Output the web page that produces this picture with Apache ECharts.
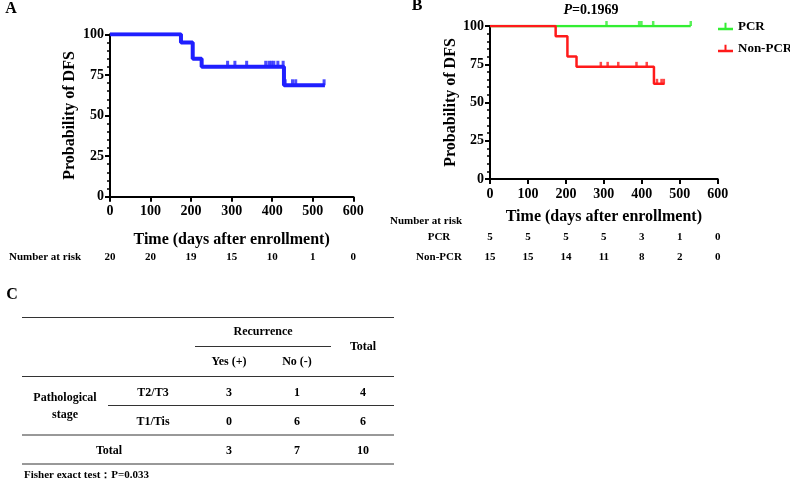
<!DOCTYPE html>
<html><head><meta charset="utf-8">
<script src="https://cdn.jsdelivr.net/npm/echarts@6/dist/echarts.min.js"></script>
<style>html,body{margin:0;padding:0;background:#fff}#c{width:790px;height:480px}</style>
</head><body><div id="c"></div>
<script>
// ---- Data ----
var xTicks = [0, 100, 200, 300, 400, 500, 600];
// Panel A (all patients)
var timesA = [0, 175, 204, 226, 429, 530];
var survA = [100, 95, 85, 80, 68.6, 68.6];
var censorA = [290, 308, 337, 384, 392, 398, 404, 414, 427, 432, 450, 458, 528];
var riskA = [20, 20, 19, 15, 10, 1, 0];
// Panel B
var timesPCR = [0, 529];
var survPCR = [100, 100];
var censorPCR = [307, 393, 399, 430, 529];
var timesNon = [0, 173, 204, 228, 432, 460];
var survNon = [100, 93.3, 80, 73.3, 62.2, 62.2];
var censorNon = [292, 310, 338, 386, 413, 440, 452, 458];
var riskPCR = [5, 5, 5, 5, 3, 1, 0];
var riskNon = [15, 15, 14, 11, 8, 2, 0];
var pValue = '0.1969';
// Panel C table
var colHeads = ['Yes (+)', 'No (-)', 'Total'];
var rowLabels = ['T2/T3', 'T1/Tis'];
var yesVals = [3, 0];
var noVals = [1, 6];
var rowTotals = [4, 6];
var colTotals = [3, 7, 10];
var fisherP = '0.033';

// ---- helpers ----
function pairs(xs, ys) { return xs.map(function (x, i) { return [x, ys[i]]; }); }
function survAt(xs, ys, t) { var v = ys[0]; for (var i = 0; i < xs.length; i++) { if (xs[i] <= t) v = ys[i]; } return v; }
function censorPts(cs, xs, ys) { return cs.map(function (t) { return [t, survAt(xs, ys, t)]; }); }

var FF = '"Liberation Serif", "Times New Roman", serif';
var BLUE = '#1f1fff', GREEN = '#33ee33', RED = '#ff1a1a';
var TICK = '#000';

function yAxisCfg(gi, gap) {
  return {
    gridIndex: gi, type: 'value', min: 0, max: 100, interval: 25,
    name: 'Probability of DFS', nameLocation: 'middle', nameGap: gap,
    nameTextStyle: { fontFamily: FF, fontWeight: 'bold', fontSize: 16, color: '#000' },
    axisLine: { show: true, lineStyle: { color: '#000', width: 2 } },
    axisTick: { show: true, length: 5, lineStyle: { color: TICK, width: 2 } },
    minorTick: { show: true, splitNumber: 5, length: 3, lineStyle: { color: TICK, width: 1.5 } },
    splitLine: { show: false },
    axisLabel: { fontFamily: FF, fontWeight: 'bold', fontSize: 14, color: '#000', margin: 6 }
  };
}
function xAxisCfg(gi, gap) {
  return {
    gridIndex: gi, type: 'value', min: 0, max: 600, interval: 100,
    name: 'Time (days after enrollment)', nameLocation: 'middle', nameGap: gap,
    nameTextStyle: { fontFamily: FF, fontWeight: 'bold', fontSize: 16, color: '#000' },
    axisLine: { show: true, onZero: false, lineStyle: { color: '#000', width: 2 } },
    axisTick: { show: true, length: 5, lineStyle: { color: TICK, width: 2 } },
    splitLine: { show: false },
    axisLabel: { fontFamily: FF, fontWeight: 'bold', fontSize: 14, color: '#000', margin: 8 }
  };
}
function riskAxis(gi, offset, arr) {
  return {
    gridIndex: gi, type: 'value', min: 0, max: 600, interval: 100, position: 'bottom', offset: offset,
    axisLine: { show: false }, axisTick: { show: false }, splitLine: { show: false },
    axisLabel: { fontFamily: FF, fontWeight: 'bold', fontSize: 11, color: '#000', margin: 0,
      formatter: function (v) { var i = xTicks.indexOf(v); return i >= 0 ? String(arr[i]) : ''; } }
  };
}
function stepLine(name, xi, yi, xs, ys, color, w) {
  return { name: name, type: 'line', xAxisIndex: xi, yAxisIndex: yi, step: 'end', data: pairs(xs, ys),
    symbol: 'none', lineStyle: { color: color, width: w }, itemStyle: { color: color }, z: 3, silent: true, animation: false };
}
function censors(xi, yi, cs, xs, ys, color, sz, off) {
  return { type: 'scatter', xAxisIndex: xi, yAxisIndex: yi, data: censorPts(cs, xs, ys),
    symbol: 'rect', symbolSize: sz, symbolOffset: off, itemStyle: { color: color }, z: 4, silent: true, animation: false };
}

var txt = function (x, y, s, size, align, extra) {
  var st = { text: s, x: x, y: y, fill: '#000', font: 'bold ' + size + 'px ' + FF, textAlign: align || 'center', textVerticalAlign: 'middle' };
  if (extra) for (var k in extra) st[k] = extra[k];
  return { type: 'text', style: st, silent: true };
};
var hline = function (x1, x2, y) {
  return { type: 'line', shape: { x1: x1, y1: y, x2: x2, y2: y }, style: { stroke: '#333', lineWidth: 1 }, silent: true };
};

var gfx = [
  txt(11, 9, 'A', 16, 'center'),
  txt(417, 6, 'B', 16, 'center'),
  txt(12, 295, 'C', 16, 'center'),
  txt(9, 257, 'Number at risk', 11, 'left'),
  txt(390, 221, 'Number at risk', 11, 'left'),
  txt(439, 237, 'PCR', 11, 'center'),
  txt(439, 257, 'Non-PCR', 11, 'center')
];
// Table
var colX = [229, 297, 363];
gfx.push(hline(22, 394, 317.5), hline(195, 331, 346.5), hline(22, 394, 376.5), hline(108, 394, 405.5), hline(22, 394, 435), hline(22, 394, 464));
gfx.push(txt(263, 332, 'Recurrence', 12, 'center'));
gfx.push(txt(colX[0], 362, colHeads[0], 12, 'center'), txt(colX[1], 362, colHeads[1], 12, 'center'), txt(colX[2], 347, colHeads[2], 12, 'center'));
gfx.push(txt(65, 398, 'Pathological', 12, 'center'), txt(65, 415, 'stage', 12, 'center'));
var rowY = [392.5, 421.5];
rowLabels.forEach(function (r, i) {
  gfx.push(txt(153, rowY[i], r, 12, 'center'));
  gfx.push(txt(colX[0], rowY[i], String(yesVals[i]), 12, 'center'));
  gfx.push(txt(colX[1], rowY[i], String(noVals[i]), 12, 'center'));
  gfx.push(txt(colX[2], rowY[i], String(rowTotals[i]), 12, 'center'));
});
gfx.push(txt(109, 450.5, 'Total', 12, 'center'));
colTotals.forEach(function (v, i) { gfx.push(txt(colX[i], 450.5, String(v), 12, 'center')); });
gfx.push(txt(24, 475, 'Fisher exact test\uff1aP=' + fisherP, 11, 'left'));

var legendIcon = 'path://M0,7 L15,7 L15,9.5 L0,9.5 Z M6.5,2 L8.5,2 L8.5,7 L6.5,7 Z';

var option = {
  backgroundColor: '#fff',
  animation: false,
  title: {
    text: '{i|P}{n|=' + pValue + '}', left: 586, top: -2, textAlign: 'center',
    textStyle: { rich: {
      i: { fontFamily: FF, fontStyle: 'italic', fontWeight: 'bold', fontSize: 14, color: '#000' },
      n: { fontFamily: FF, fontWeight: 'bold', fontSize: 14, color: '#000' } } }
  },
  legend: {
    data: ['PCR', 'Non-PCR'], orient: 'vertical', left: 713, top: 15, itemWidth: 15, itemHeight: 10, itemGap: 9,
    icon: legendIcon,
    textStyle: { fontFamily: FF, fontWeight: 'bold', fontSize: 13, color: '#000' }
  },
  grid: [
    { left: 110, top: 34.3, width: 243.3, height: 162.4 },
    { left: 490, top: 26, width: 227.7, height: 153 }
  ],
  xAxis: [
    xAxisCfg(0, 35), xAxisCfg(1, 30),
    riskAxis(0, 55, riskA), riskAxis(1, 53, riskPCR), riskAxis(1, 73, riskNon)
  ],
  yAxis: [yAxisCfg(0, 32), yAxisCfg(1, 27)],
  series: [
    stepLine('All', 0, 0, timesA, survA, BLUE, 4),
    censors(0, 0, censorA, timesA, survA, BLUE, [3, 6], [0, -3]),
    stepLine('PCR', 1, 1, timesPCR, survPCR, GREEN, 2.5),
    censors(1, 1, censorPCR, timesPCR, survPCR, GREEN, [2.5, 5], [0, -2.5]),
    stepLine('Non-PCR', 1, 1, timesNon, survNon, RED, 2.5),
    censors(1, 1, censorNon, timesNon, survNon, RED, [2.5, 5], [0, -2.5])
  ],
  graphic: gfx
};
var chart = echarts.init(document.getElementById('c'), null, { renderer: 'canvas' });
chart.setOption(option);
</script></body></html>
